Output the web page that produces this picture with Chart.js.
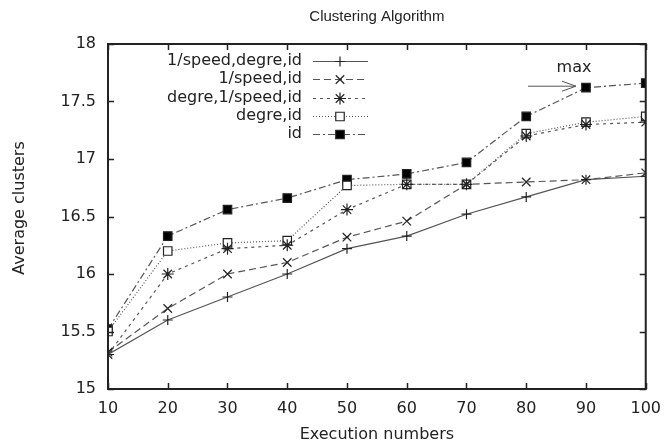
<!DOCTYPE html>
<html>
<head>
<meta charset="utf-8">
<script src="https://cdn.jsdelivr.net/npm/chart.js@4"></script>
<style>
html,body{margin:0;padding:0;background:#fff;}
#wrap{width:671px;height:448px;}
</style>
</head>
<body>
<div id="wrap"><canvas id="c" width="671" height="448"></canvas></div>
<script>
const executions = [10, 20, 30, 40, 50, 60, 70, 80, 90, 100];
const seriesNames = ["1/speed,degre,id", "1/speed,id", "degre,1/speed,id", "degre,id", "id"];
const speedDegreId = [15.30, 15.60, 15.80, 16.00, 16.22, 16.33, 16.52, 16.67, 16.82, 16.85];
const speedId      = [15.32, 15.70, 16.00, 16.10, 16.32, 16.46, 16.78, 16.80, 16.82, 16.88];
const degreSpeedId = [15.30, 16.00, 16.22, 16.25, 16.56, 16.78, 16.78, 17.20, 17.30, 17.32];
const degreId      = [15.50, 16.20, 16.27, 16.29, 16.77, 16.78, 16.78, 17.22, 17.32, 17.37];
const idOnly       = [15.52, 16.33, 16.56, 16.66, 16.82, 16.87, 16.97, 17.37, 17.62, 17.66];
const yTicks = [15, 15.5, 16, 16.5, 17, 17.5, 18];
const xTicks = executions;
const titleText = "Clustering Algorithm";
const xTitle = "Execution numbers";
const yTitle = "Average clusters";
const maxLabel = "max";

const FONT = "'DejaVu Sans', sans-serif";
const TFONT = "'Liberation Sans', Arial, sans-serif";
const seriesValues = [speedDegreId, speedId, degreSpeedId, degreId, idOnly];
const styles = [
  {dash: [], point: 'cross', fill: 'rgba(0,0,0,0)', r: 5},
  {dash: [7, 4], point: 'crossRot', fill: 'rgba(0,0,0,0)', r: 6},
  {dash: [3, 4], point: 'star', fill: 'rgba(0,0,0,0)', r: 6},
  {dash: [1, 2], point: 'rect', fill: '#fff', r: 6},
  {dash: [7, 3, 2, 3], point: 'rect', fill: '#000', r: 6}
];

const datasets = seriesNames.map((name, i) => ({
  label: name,
  data: executions.map((x, j) => ({x: x, y: seriesValues[i][j]})),
  borderColor: '#555',
  borderWidth: 1.2,
  borderDash: styles[i].dash,
  pointStyle: styles[i].point,
  pointRadius: styles[i].r,
  pointBorderColor: '#222',
  pointBackgroundColor: styles[i].fill,
  pointBorderWidth: 1.2,
  fill: false,
  tension: 0
}));

const decor = {
  id: 'decor',
  afterDraw(chart) {
    const ctx = chart.ctx;
    const a = chart.chartArea;
    const xs = chart.scales.x, ys = chart.scales.y;
    ctx.save();
    // frame
    ctx.strokeStyle = '#222';
    ctx.lineWidth = 2;
    ctx.setLineDash([]);
    ctx.strokeRect(a.left, a.top, a.right - a.left, a.bottom - a.top);
    // inward ticks on all sides
    ctx.lineWidth = 1.5;
    const tl = 6;
    xTicks.forEach(v => {
      const px = Math.round(xs.getPixelForValue(v)) + 0.5;
      ctx.beginPath();
      ctx.moveTo(px, a.bottom); ctx.lineTo(px, a.bottom - tl);
      ctx.moveTo(px, a.top); ctx.lineTo(px, a.top + tl);
      ctx.stroke();
    });
    yTicks.forEach(v => {
      const py = Math.round(ys.getPixelForValue(v)) + 0.5;
      ctx.beginPath();
      ctx.moveTo(a.left, py); ctx.lineTo(a.left + tl, py);
      ctx.moveTo(a.right, py); ctx.lineTo(a.right - tl, py);
      ctx.stroke();
    });
    // title
    ctx.fillStyle = '#222';
    ctx.font = '15px ' + TFONT;
    ctx.textAlign = 'center';
    ctx.textBaseline = 'middle';
    ctx.fillText(titleText, (a.left + a.right) / 2, 17);
    // axis titles
    ctx.font = '16px ' + FONT;
    ctx.fillText(xTitle, (a.left + a.right) / 2, 435);
    ctx.save();
    ctx.translate(20, 208);
    ctx.rotate(-Math.PI / 2);
    ctx.fillText(yTitle, 0, 0);
    ctx.restore();
    // legend
    ctx.textAlign = 'right';
    const rowY0 = 61, rowH = 18.3;
    chart.data.datasets.forEach((ds, i) => {
      const y = rowY0 + i * rowH;
      ctx.fillStyle = '#222';
      ctx.fillText(ds.label, 302, y);
      ctx.strokeStyle = '#555';
      ctx.lineWidth = 1.2;
      ctx.setLineDash(ds.borderDash);
      ctx.beginPath();
      ctx.moveTo(313, Math.round(y) + 0.5); ctx.lineTo(368, Math.round(y) + 0.5);
      ctx.stroke();
      ctx.setLineDash([]);
      ctx.strokeStyle = ds.pointBorderColor;
      ctx.fillStyle = ds.pointBackgroundColor;
      ctx.lineWidth = 1.2;
      Chart.helpers.drawPoint(ctx, {pointStyle: ds.pointStyle, radius: ds.pointRadius, rotation: 0, borderWidth: 1.2}, 340, Math.round(y) + 0.5);
    });
    // max annotation
    const mx = xs.getPixelForValue(90), my = ys.getPixelForValue(idOnly[8]);
    ctx.strokeStyle = '#555';
    ctx.lineWidth = 1;
    ctx.beginPath();
    ctx.moveTo(mx - 58, my - 1.5); ctx.lineTo(mx - 10, my - 1.5);
    ctx.moveTo(mx - 24, my - 6.5); ctx.lineTo(mx - 10, my - 1.5); ctx.lineTo(mx - 24, my + 3.5);
    ctx.stroke();
    ctx.fillStyle = '#222';
    ctx.textAlign = 'center';
    ctx.fillText(maxLabel, mx - 12, my - 20);
    ctx.restore();
  }
};

new Chart(document.getElementById('c'), {
  type: 'line',
  data: {datasets: datasets},
  options: {
    responsive: false,
    animation: false,
    layout: {padding: {left: 0, right: 21, top: 44, bottom: 0}},
    plugins: {legend: {display: false}, title: {display: false}, tooltip: {enabled: false}},
    scales: {
      x: {
        type: 'linear', min: 10, max: 100,
        afterBuildTicks: s => { s.ticks = xTicks.map(v => ({value: v})); },
        afterFit: s => { s.height = 59; },
        grid: {display: false, drawTicks: false},
        border: {display: false},
        ticks: {color: '#222', font: {family: FONT, size: 16}, padding: 10, maxRotation: 0, autoSkip: false,
                callback: v => String(v)}
      },
      y: {
        type: 'linear', min: 15, max: 18,
        afterBuildTicks: s => { s.ticks = yTicks.map(v => ({value: v})); },
        afterFit: s => { s.width = 108; },
        grid: {display: false, drawTicks: false},
        border: {display: false},
        ticks: {color: '#222', font: {family: FONT, size: 16}, padding: 12, autoSkip: false,
                callback: v => String(v)}
      }
    }
  },
  plugins: [decor]
});
</script>
</body>
</html>
